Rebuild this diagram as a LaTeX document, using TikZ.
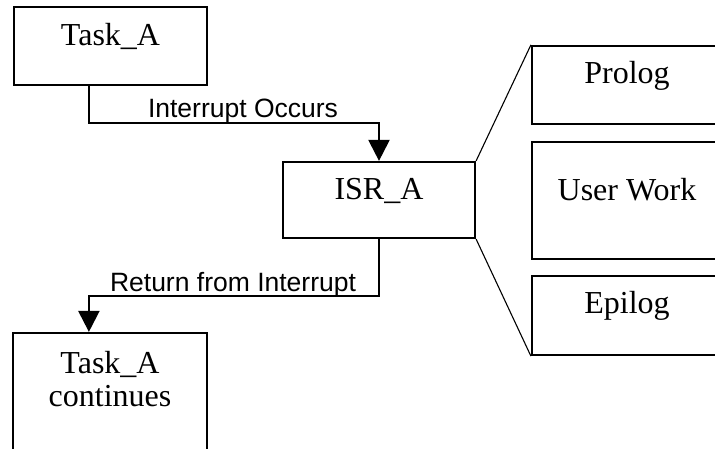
\documentclass[tikz,border=0pt]{standalone}
\usepackage{fontspec}
\setmainfont{Liberation Serif}
\setsansfont{Liberation Sans}
\usetikzlibrary{arrows.meta}
\begin{document}
\begin{tikzpicture}[x=1pt,y=-1pt,
  box/.style={draw=black, line width=2.2pt, rectangle, inner sep=0pt},
  boxtext/.style={font=\fontsize{32}{33}\selectfont, inner sep=0pt, anchor=base, align=center},
  lbl/.style={font=\sffamily\fontsize{26.5}{30}\selectfont, inner sep=0pt, anchor=base},
  flow/.style={line width=2.2pt, -{Triangle[length=21pt,width=21pt]}},
  fan/.style={line width=1.1pt}
]
% canvas and clipping frame
\fill[white] (0,0) rectangle (715,449);
\clip (0,0) rectangle (715,449);

% boxes
\node[box, minimum width=193pt, minimum height=78pt]  (taskA)  at (110.5,46)  {};
\node[box, minimum width=192pt, minimum height=76pt]  (isr)    at (379,200)   {};
\node[box, minimum width=190pt, minimum height=78pt]  (prolog) at (627,85)    {};
\node[box, minimum width=190pt, minimum height=117pt] (work)   at (627,200.5) {};
\node[box, minimum width=190pt, minimum height=79pt]  (epilog) at (627,315.5) {};
\node[box, minimum width=194pt, minimum height=130pt] (cont)   at (110,398)   {};

% box captions (base anchor of a two-line caption is its last line)
\node[boxtext] (taskAtxt)  at ([yshift=-40pt]taskA.north)  {Task\_A};
\node[boxtext] (isrtxt)    at ([yshift=-39pt]isr.north)    {ISR\_A};
\node[boxtext] (prologtxt) at ([yshift=-39pt]prolog.north) {Prolog};
\node[boxtext] (worktxt)   at ([yshift=-60pt]work.north)   {User Work};
\node[boxtext] (epilogtxt) at ([yshift=-39pt]epilog.north) {Epilog};
\node[boxtext] (conttxt)   at ([yshift=-75pt]cont.north)   {Task\_A\\continues};

% control flow
\draw[flow] ([xshift=76pt]taskA.south west) -- ++(0,37) -| (isr.north);
\draw[flow] (isr.south) -- ++(0,57) -| ([xshift=77pt]cont.north west);
\node[lbl] (occurs) at (243,118) {Interrupt Occurs};
\node[lbl] (ret)    at (233,291) {Return from Interrupt};

% expansion of the ISR into its parts
\draw[fan] (isr.north east) -- (prolog.north west);
\draw[fan] (isr.south east) -- (epilog.south west);
\end{tikzpicture}
\end{document}
